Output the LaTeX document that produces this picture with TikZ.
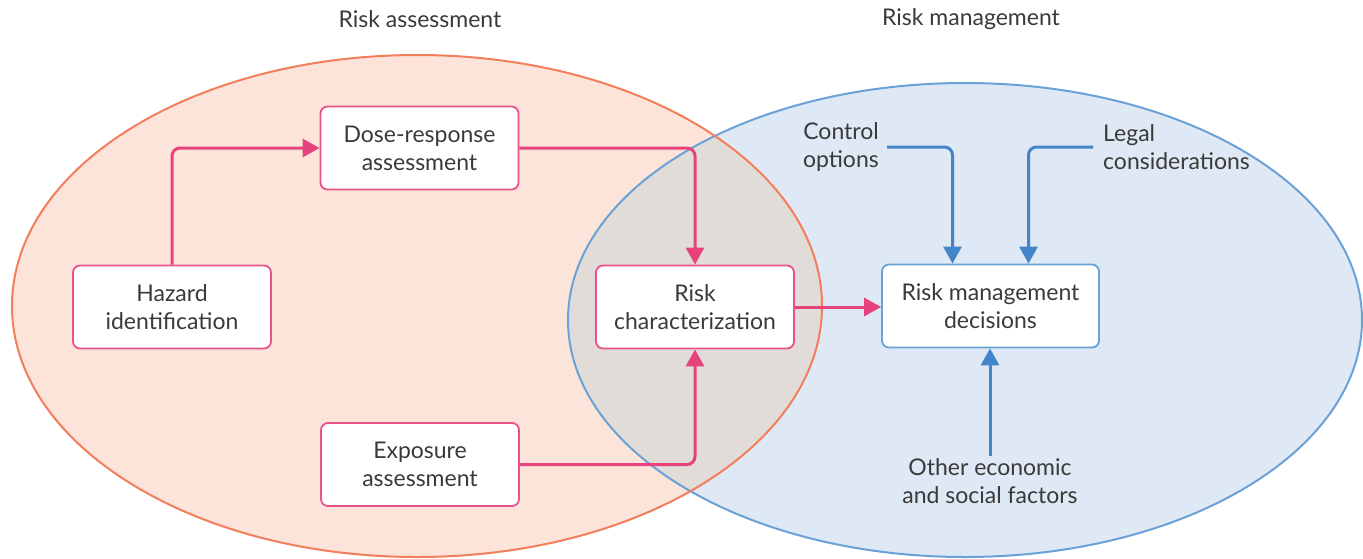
\documentclass[tikz,border=0pt]{standalone}
\usepackage{fontspec}
\setmainfont{Lato}
\usetikzlibrary{arrows.meta}
\definecolor{peachfill}{HTML}{FCE4DA}
\definecolor{peachline}{HTML}{F27E5B}
\definecolor{bluefill}{HTML}{DFE8F5}
\definecolor{blueline}{HTML}{6AA2D8}
\definecolor{overlapfill}{HTML}{E2DCD9}
\definecolor{pinkarrow}{HTML}{E6437C}
\definecolor{pinkbox}{HTML}{E8538A}
\definecolor{bluearrow}{HTML}{4286C9}
\definecolor{txt}{HTML}{3A3A3A}
\tikzset{
  lbl/.style={font=\fontsize{23}{28}\selectfont, text=txt},
  pbox/.style={lbl, draw=pinkbox, line width=1.8pt, fill=white, rounded corners=7pt,
    minimum width=198pt, minimum height=83pt, align=center, inner sep=0pt},
  bbox/.style={pbox, draw=blueline, minimum width=217pt},
  parrow/.style={draw=pinkarrow, line width=3pt, rounded corners=8pt,
    -{Triangle[length=17pt,width=18pt]}},
  barrow/.style={parrow, draw=bluearrow},
}
\begin{document}
\begin{tikzpicture}[x=1pt,y=-1pt]
\useasboundingbox (0,0) rectangle (1363,558);
% ellipses
\fill[peachfill] (417,306) ellipse [x radius=405pt, y radius=251pt];
\fill[bluefill] (965,320) ellipse [x radius=397pt, y radius=237pt];
\begin{scope}
  \clip (417,306) ellipse [x radius=405pt, y radius=251pt];
  \fill[overlapfill] (965,320) ellipse [x radius=397pt, y radius=237pt];
\end{scope}
\draw[blueline, line width=2pt] (965,320) ellipse [x radius=397pt, y radius=237pt];
\draw[peachline, line width=2pt] (417,306) ellipse [x radius=405pt, y radius=251pt];
% titles
\node[lbl] (ra) at (420,19) {Risk assessment};
\node[lbl] (rm) at (971,19) {Risk management};
% boxes
\node[pbox] (dose) at (419.5,148) {Dose-response\\assessment};
\node[pbox] (haz) at (172,307) {Hazard\\identification};
\node[pbox] (risk) at (695,307) {Risk\\characterization};
\node[pbox] (expo) at (420,464.5) {Exposure\\assessment};
\node[bbox] (rmd) at (990.5,306) {Risk management\\decisions};
% free labels
\node[lbl, align=right, anchor=east, inner xsep=8pt] (ctrl) at (887,147) {Control\\options};
\node[lbl, align=left, anchor=west, inner xsep=10pt] (legal) at (1093,147) {Legal\\considerations};
\node[lbl, align=center, anchor=north, inner ysep=2pt] (other) at (990,456) {Other economic\\and social factors};
% pink arrows
\draw[parrow] (haz.north) |- (dose.west);
\draw[parrow] (dose.east) -| (risk.north);
\draw[parrow] (expo.east) -| (risk.south);
\draw[parrow] (risk.east) -- (risk.east -| rmd.west);
% blue arrows
\draw[barrow] (ctrl.east) -| ([xshift=-38pt]rmd.north);
\draw[barrow] (legal.west) -| ([xshift=38pt]rmd.north);
\draw[barrow] (other.north) -- (other.north |- rmd.south);
\end{tikzpicture}
\end{document}
